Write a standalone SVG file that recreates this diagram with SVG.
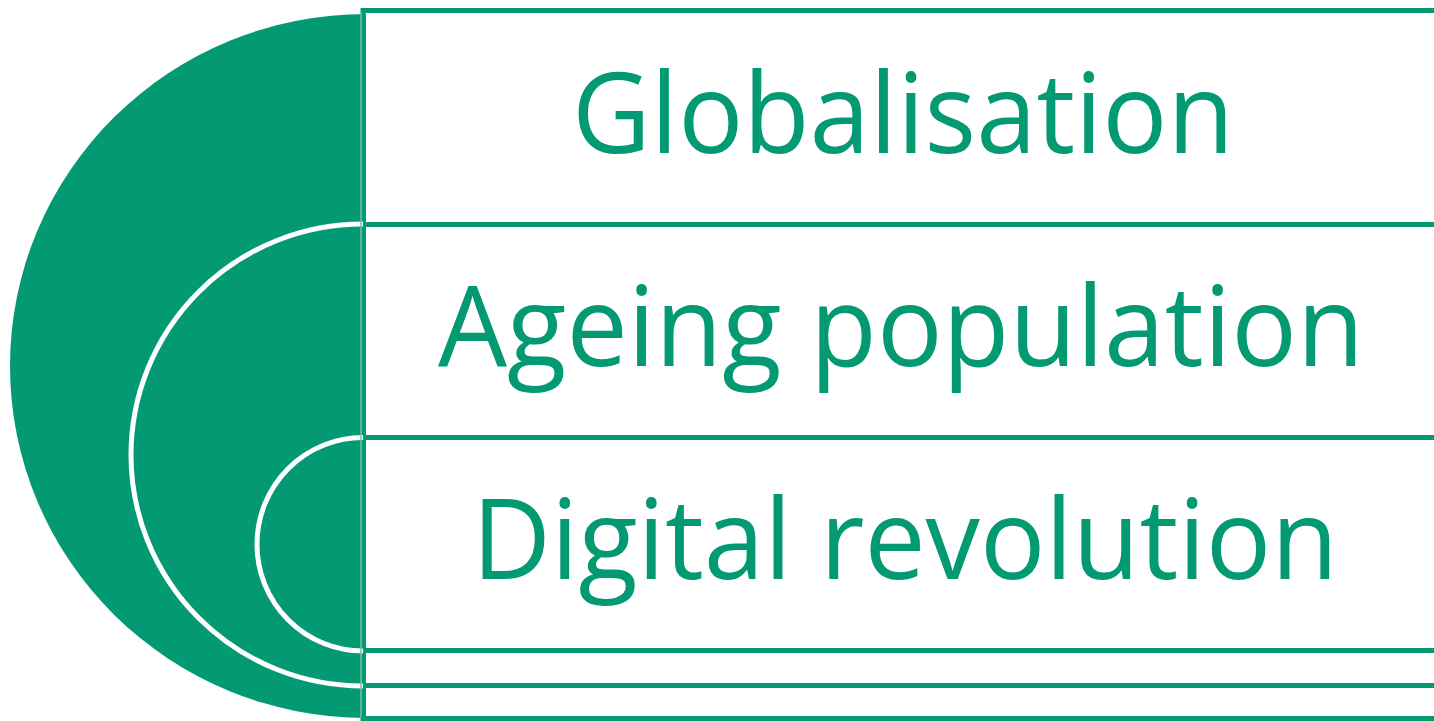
<svg xmlns="http://www.w3.org/2000/svg" width="1434" height="721" viewBox="0 0 1434 721">
<style>
.band{fill:#ffffff;stroke:#039A73;stroke-width:5}
.arc{fill:#039A73;stroke:#ffffff;stroke-width:5}
.lbl{font-family:"Open Sans","Noto Sans",sans-serif;font-size:112px;fill:#039A73}
</style>
<rect width="1434" height="721" fill="#ffffff"/>
<g id="bands">
<rect class="band" x="363" y="10.5" width="1090" height="708"/>
<line x1="363" y1="224.5" x2="1434" y2="224.5" stroke="#039A73" stroke-width="5"/>
<line x1="363" y1="437.5" x2="1434" y2="437.5" stroke="#039A73" stroke-width="5"/>
<line x1="363" y1="650.5" x2="1434" y2="650.5" stroke="#039A73" stroke-width="5"/>
<line x1="363" y1="685.5" x2="1434" y2="685.5" stroke="#039A73" stroke-width="5"/>
</g>
<g id="outer-arc">
<path d="M366 14 A356 352 0 0 0 366 718 Z" fill="#039A73"/>
</g>
<g id="middle-arc">
<path class="arc" d="M363 224 A232 231 0 0 0 363 686"/>
</g>
<g id="inner-arc">
<path class="arc" d="M363 437.5 A106 106.75 0 0 0 363 651"/>
</g>
<line x1="361" y1="12" x2="361" y2="718" stroke="#6cc2a5" stroke-width="1.5"/>
<g id="globalisation"><text class="lbl" x="572" y="153" textLength="662" lengthAdjust="spacingAndGlyphs">Globalisation</text></g>
<g id="ageing"><text class="lbl" x="438" y="366" textLength="926" lengthAdjust="spacingAndGlyphs">Ageing population</text></g>
<g id="digital"><text class="lbl" x="472" y="579" textLength="866" lengthAdjust="spacingAndGlyphs">Digital revolution</text></g>
</svg>
